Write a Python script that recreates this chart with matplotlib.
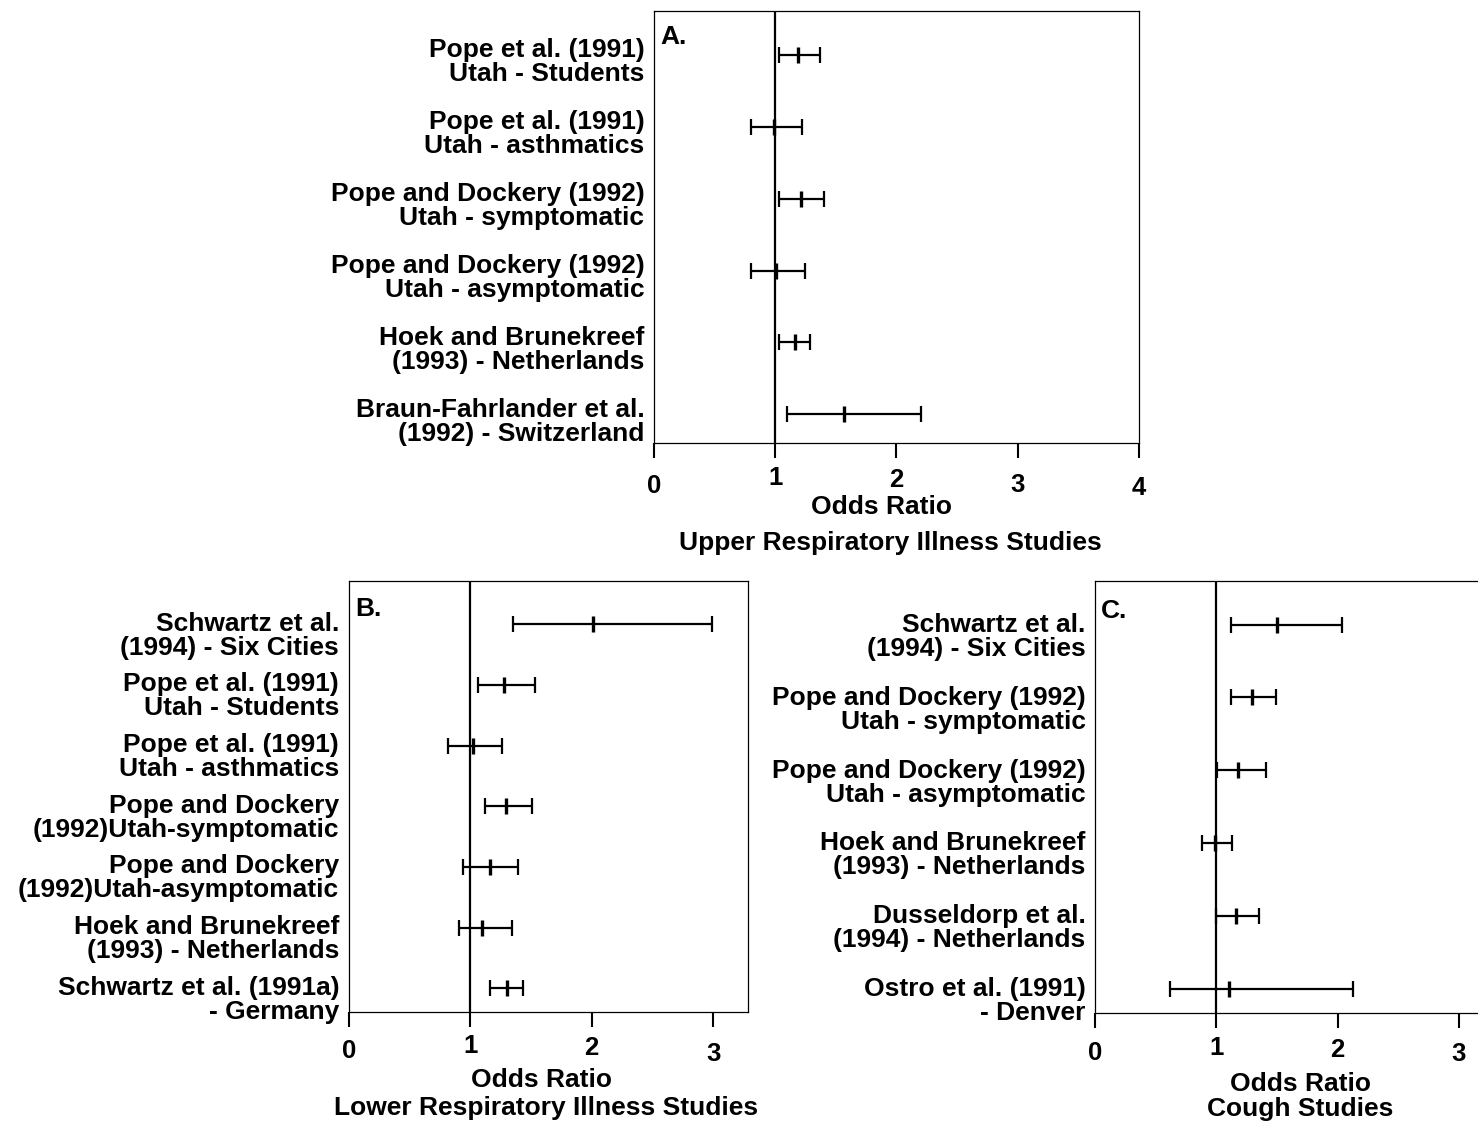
import numpy as np
import matplotlib.pyplot as plt
from matplotlib.transforms import ScaledTranslation

plt.rcParams['font.family'] = ['Liberation Sans', 'DejaVu Sans']
plt.rcParams['font.weight'] = 'bold'

# panel A - upper respiratory illness
labels_a = ["Pope et al. (1991)\nUtah - Students",
            "Pope et al. (1991)\nUtah - asthmatics",
            "Pope and Dockery (1992)\nUtah - symptomatic",
            "Pope and Dockery (1992)\nUtah - asymptomatic",
            "Hoek and Brunekreef\n(1993) - Netherlands",
            "Braun-Fahrlander et al.\n(1992) - Switzerland"]
or_a = [1.19, 0.99, 1.21, 1.005, 1.16, 1.57]
lo_a = [1.03, 0.80, 1.03, 0.80, 1.03, 1.10]
hi_a = [1.37, 1.22, 1.40, 1.245, 1.29, 2.20]

# panel B - lower respiratory illness
labels_b = ["Schwartz et al.\n(1994) - Six Cities",
            "Pope et al. (1991)\nUtah - Students",
            "Pope et al. (1991)\nUtah - asthmatics",
            "Pope and Dockery\n(1992)Utah-symptomatic",
            "Pope and Dockery\n(1992)Utah-asymptomatic",
            "Hoek and Brunekreef\n(1993) - Netherlands",
            "Schwartz et al. (1991a)\n- Germany"]
or_b = [2.01, 1.28, 1.02, 1.29, 1.16, 1.10, 1.30]
lo_b = [1.35, 1.06, 0.82, 1.12, 0.94, 0.91, 1.165]
hi_b = [2.99, 1.53, 1.26, 1.51, 1.39, 1.34, 1.43]

# panel C - cough
labels_c = ["Schwartz et al.\n(1994) - Six Cities",
            "Pope and Dockery (1992)\nUtah - symptomatic",
            "Pope and Dockery (1992)\nUtah - asymptomatic",
            "Hoek and Brunekreef\n(1993) - Netherlands",
            "Dusseldorp et al.\n(1994) - Netherlands",
            "Ostro et al. (1991)\n- Denver"]
or_c = [1.50, 1.29, 1.18, 0.99, 1.165, 1.10]
lo_c = [1.12, 1.12, 1.005, 0.88, 1.00, 0.62]
hi_c = [2.04, 1.49, 1.41, 1.13, 1.35, 2.13]

FS = 19


def shift(artist, dx, dy):
    # move an artist by a few pixels (dy > 0 means downwards)
    artist.set_transform(artist.get_transform() +
                         ScaledTranslation(dx / 100, -dy / 100, fig.dpi_scale_trans))


def panel(ax, labels, ors, los, his, letter, title, xmax, xticks, ylim,
          ylab_dy, xtick_dy, letter_dy, xlab_y, xlab_x):
    n = len(labels)
    y = np.arange(n, 0, -1)
    ors = np.array(ors)
    err = [ors - np.array(los), np.array(his) - ors]
    ax.errorbar(ors, y, xerr=err, fmt='none', ecolor='black', elinewidth=1.6,
                capsize=5.5, capthick=1.6, zorder=3)
    ax.plot(ors, y, ls='none', marker='|', ms=11, mew=2.4, color='black', zorder=4)
    ax.axvline(1, color='black', lw=1.6, zorder=2)
    ax.set_xlim(0, xmax)
    ax.set_ylim(*ylim)
    ax.set_xticks(xticks)
    ax.set_xticklabels([str(t) for t in xticks], fontsize=FS - 0.5, fontweight='bold')
    ax.set_yticks(y)
    ax.set_yticklabels(labels, fontsize=FS, fontweight='bold', linespacing=1.0)
    ax.tick_params(axis='x', direction='out', length=11, width=1.5, pad=12)
    ax.tick_params(axis='y', length=0, pad=7)
    for s in ax.spines.values():
        s.set_linewidth(0.9)
    for lab in ax.get_yticklabels():
        shift(lab, 0, ylab_dy)
    for lab, d in zip(ax.get_xticklabels(), xtick_dy):
        shift(lab, 0, d)
    # two-line axis caption under the tick labels
    ax.annotate("Odds Ratio", xy=(0.5, 0), xycoords='axes fraction',
                xytext=(xlab_x[0], -xlab_y[0]), textcoords='offset pixels',
                ha='center', va='baseline', fontsize=FS, fontweight='bold')
    ax.annotate(title, xy=(0.5, 0), xycoords='axes fraction',
                xytext=(xlab_x[1], -xlab_y[1]), textcoords='offset pixels',
                ha='center', va='baseline', fontsize=FS, fontweight='bold')
    ax.annotate(letter, xy=(0, 1), xycoords='axes fraction',
                xytext=(6, -letter_dy), textcoords='offset pixels',
                ha='left', va='top', fontsize=FS, fontweight='bold')


fig = plt.figure(figsize=(14.78, 11.27), dpi=100)
ax_a = fig.add_axes([0.4425, 0.6069, 0.3281, 0.3833])
ax_b = fig.add_axes([0.2361, 0.1020, 0.2702, 0.3824])
ax_c = fig.add_axes([0.7411, 0.1009, 0.2696, 0.3836])

panel(ax_a, labels_a, or_a, lo_a, hi_a, "A.", "Upper Respiratory Illness Studies",
      4.0, [0, 1, 2, 3, 4], (0.6, 6.61),
      5, [-1, -9, -7, -2, 1], 14, (71, 107), (-15, -6))
panel(ax_b, labels_b, or_b, lo_b, hi_b, "B.", "Lower Respiratory Illness Studies",
      3.29, [0, 1, 2, 3], (0.61, 7.71),
      9, [-5, -10, -8, -2], 16, (75, 103), (-7, -3))
panel(ax_c, labels_c, or_c, lo_c, hi_c, "C.", "Cough Studies",
      3.29, [0, 1, 2, 3], (0.66, 6.6),
      10, [-4, -9, -7, -3], 18, (78, 103), (6, 6))

fig.savefig("out.png", dpi=100)
